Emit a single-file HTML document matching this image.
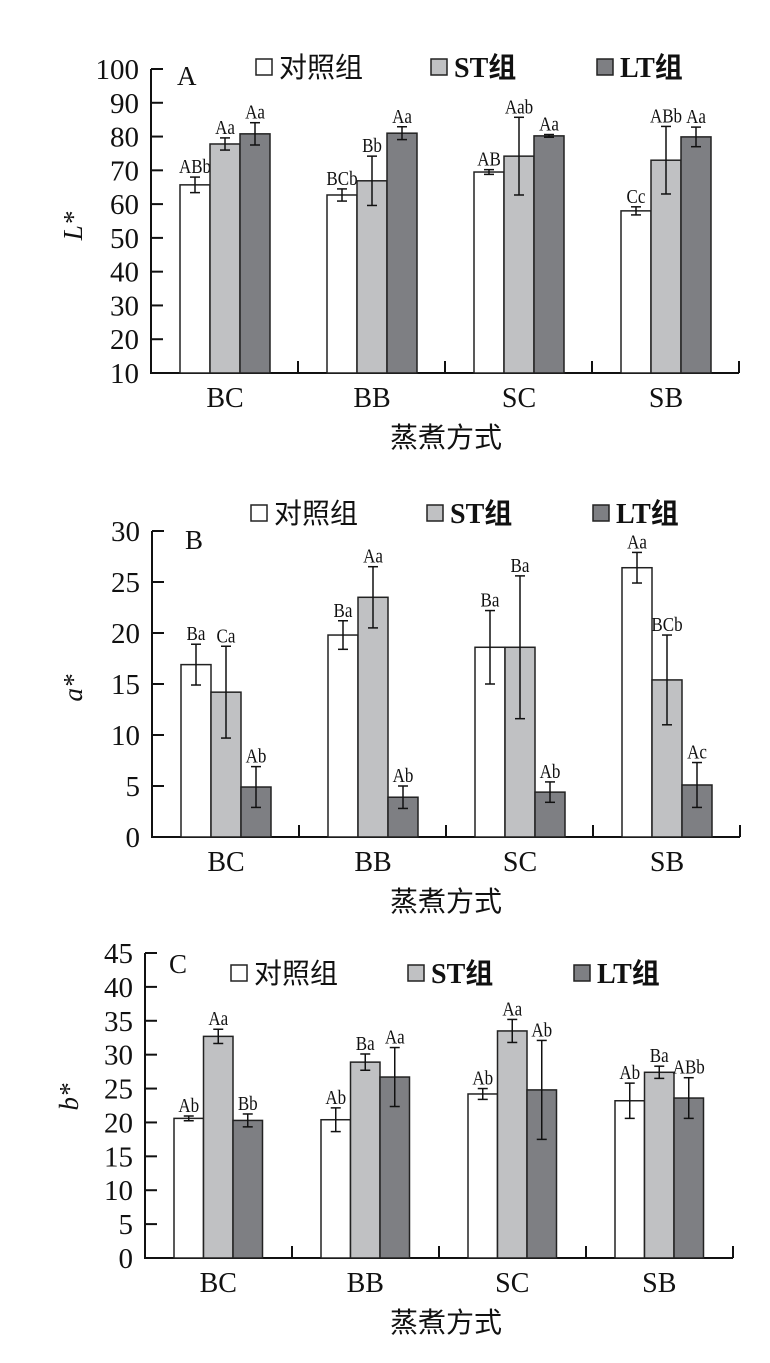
<!DOCTYPE html>
<html><head><meta charset="utf-8">
<style>
html,body{margin:0;padding:0;background:#fff;}
svg{display:block;}
text{font-family:"Liberation Serif","Noto Serif CJK SC",serif;fill:#111;}
.cjk{font-family:"Liberation Serif","Noto Sans CJK SC",sans-serif;}
</style></head>
<body>
<svg id="fig" width="770" height="1363" viewBox="0 0 770 1363" xmlns="http://www.w3.org/2000/svg"></svg>
<script>
const categories = ["BC","BB","SC","SB"];
const seriesNames = ["对照组","ST组","LT组"];
// Panel A (L*)
const aCtrl = [65.7,62.7,69.5,58.0];
const aST   = [77.8,66.9,74.2,73.0];
const aLT   = [80.8,81.0,80.2,79.9];
const aCtrlErr = [2.3,1.8,0.7,1.2];
const aSTErr   = [1.8,7.3,11.5,10.0];
const aLTErr   = [3.3,1.9,0.4,2.9];
const aCtrlLab = ["ABb","BCb","AB","Cc"];
const aSTLab   = ["Aa","Bb","Aab","ABb"];
const aLTLab   = ["Aa","Aa","Aa","Aa"];
const aTicks = [10,20,30,40,50,60,70,80,90,100];
// Panel B (a*)
const bCtrl = [16.9,19.8,18.6,26.4];
const bST   = [14.2,23.5,18.6,15.4];
const bLT   = [4.9,3.9,4.4,5.1];
const bCtrlErr = [2.0,1.4,3.6,1.5];
const bSTErr   = [4.5,3.0,7.0,4.4];
const bLTErr   = [2.0,1.1,1.0,2.2];
const bCtrlLab = ["Ba","Ba","Ba","Aa"];
const bSTLab   = ["Ca","Aa","Ba","BCb"];
const bLTLab   = ["Ab","Ab","Ab","Ac"];
const bTicks = [0,5,10,15,20,25,30];
// Panel C (b*)
const cCtrl = [20.6,20.4,24.2,23.2];
const cST   = [32.7,28.9,33.5,27.4];
const cLT   = [20.3,26.7,24.8,23.6];
const cCtrlErr = [0.35,1.75,0.8,2.6];
const cSTErr   = [1.05,1.2,1.7,0.9];
const cLTErr   = [0.95,4.35,7.3,3.0];
const cCtrlLab = ["Ab","Ab","Ab","Ab"];
const cSTLab   = ["Aa","Ba","Aa","Ba"];
const cLTLab   = ["Bb","Aa","Ab","ABb"];
const cTicks = [0,5,10,15,20,25,30,35,40,45];

const NS="http://www.w3.org/2000/svg";
const svg=document.getElementById('fig');
const fills=["#ffffff","#c0c1c3","#7e7f83"];
function mk(tag,attrs,parent){const e=document.createElementNS(NS,tag);for(const k in attrs)e.setAttribute(k,attrs[k]);(parent||svg).appendChild(e);return e;}

function panel(cfg){
  const g=mk('g',{});
  
  
  const yS=v=>cfg.y0-(v-cfg.vmin)/(cfg.vmax-cfg.vmin)*(cfg.y0-cfg.yTop);
  const gw=147;
  const xEnd=cfg.x0+4*gw;
  const ya=mk('line',{x1:cfg.x0,y1:cfg.yTop,x2:cfg.x0,y2:cfg.y0,stroke:'#111','stroke-width':2},g);
  
  
  const xa=mk('line',{x1:cfg.x0-1,y1:cfg.y0,x2:xEnd,y2:cfg.y0,stroke:'#111','stroke-width':2},g);
  
  
  cfg.ticks.forEach(t=>{
    const y=yS(t);
    mk('line',{x1:cfg.x0,y1:y,x2:cfg.x0+12,y2:y,stroke:'#111','stroke-width':2},g);
    const tx=mk('text',{x:cfg.x0-12,y:y+10,'font-size':29,'text-anchor':'end'},g);
    tx.textContent=t;
    
    
  });
  for(let i=1;i<=4;i++){
    mk('line',{x1:cfg.x0+i*gw,y1:cfg.y0,x2:cfg.x0+i*gw,y2:cfg.y0-12,stroke:'#111','stroke-width':2},g);
  }
  const sets=[[cfg.s[0],cfg.e[0],cfg.l[0]],[cfg.s[1],cfg.e[1],cfg.l[1]],[cfg.s[2],cfg.e[2],cfg.l[2]]];
  categories.forEach((c,ci)=>{
    const gx=cfg.x0+ci*gw;
    sets.forEach((st,si)=>{
      const v=st[0][ci],er=st[1][ci];
      const bx=gx+cfg.off+si*cfg.bw;
      const yt=yS(v);
      const r=mk('rect',{x:bx,y:yt,width:cfg.bw,height:cfg.y0-yt,fill:fills[si],stroke:'#222','stroke-width':1.5},g);
      
      
      const cx=bx+cfg.bw/2, yh=yS(v+er), yl=yS(v-er);
      mk('line',{x1:cx,y1:yh,x2:cx,y2:yl,stroke:'#111','stroke-width':1.5},g);
      mk('line',{x1:cx-5,y1:yh,x2:cx+5,y2:yh,stroke:'#111','stroke-width':1.5},g);
      mk('line',{x1:cx-5,y1:yl,x2:cx+5,y2:yl,stroke:'#111','stroke-width':1.5},g);
      const lb=mk('text',{x:cx,y:yh-4,'font-size':20,'text-anchor':'middle',transform:`translate(${cx},0) scale(0.85,1) translate(${-cx},0)`},g);
      lb.textContent=st[2][ci];
      
      
    });
    const cl=mk('text',{x:gx+cfg.off+1.5*cfg.bw,y:cfg.y0+34,'font-size':28,'text-anchor':'middle'},g);
    cl.textContent=c;
    
    
  });
  const xt=mk('text',{x:446,y:cfg.y0+74,'font-size':28,'text-anchor':'middle',class:'cjk'},g);
  xt.textContent='蒸煮方式';
  
  
  const ytt=mk('text',{x:0,y:0,'font-size':27,'font-style':'italic','text-anchor':'middle',transform:`translate(${cfg.ytX},${cfg.ytY}) rotate(-90)`},g);
  ytt.textContent=cfg.ytitle;
  
  
  const pl=mk('text',{x:cfg.plX,y:cfg.plY,'font-size':27},g);
  pl.textContent=cfg.letter;
  
  
  cfg.legX.forEach((lx,i)=>{
    const lg=mk('g',{},g);
    
    
    mk('rect',{x:lx,y:cfg.legY-8,width:16,height:16,fill:fills[i],stroke:'#222','stroke-width':1.5},lg);
    const t=mk('text',{x:lx+23,y:cfg.legY+10,'font-size':28,'font-weight':i>0?'bold':'normal',class:'cjk'},lg);
    t.textContent=seriesNames[i];
  });
}

panel({name:'panel-a-lightness',x0:151,y0:373,yTop:69,vmin:10,vmax:100,ticks:aTicks,off:29,bw:30,
  s:[aCtrl,aST,aLT],e:[aCtrlErr,aSTErr,aLTErr],l:[aCtrlLab,aSTLab,aLTLab],
  ytitle:'L*',ytX:82,ytY:226,letter:'A',plX:177,plY:85,legX:[256,431,597],legY:67});
panel({name:'panel-b-redness',x0:152,y0:837,yTop:531,vmin:0,vmax:30,ticks:bTicks,off:29,bw:30,
  s:[bCtrl,bST,bLT],e:[bCtrlErr,bSTErr,bLTErr],l:[bCtrlLab,bSTLab,bLTLab],
  ytitle:'a*',ytX:82,ytY:688,letter:'B',plX:185,plY:549,legX:[251,427,593],legY:513});
panel({name:'panel-c-yellowness',x0:145,y0:1258,yTop:953,vmin:0,vmax:45,ticks:cTicks,off:29,bw:29.5,
  s:[cCtrl,cST,cLT],e:[cCtrlErr,cSTErr,cLTErr],l:[cCtrlLab,cSTLab,cLTLab],
  ytitle:'b*',ytX:78,ytY:1097,letter:'C',plX:169,plY:973,legX:[231,408,574],legY:973});
</script>
</body></html>
